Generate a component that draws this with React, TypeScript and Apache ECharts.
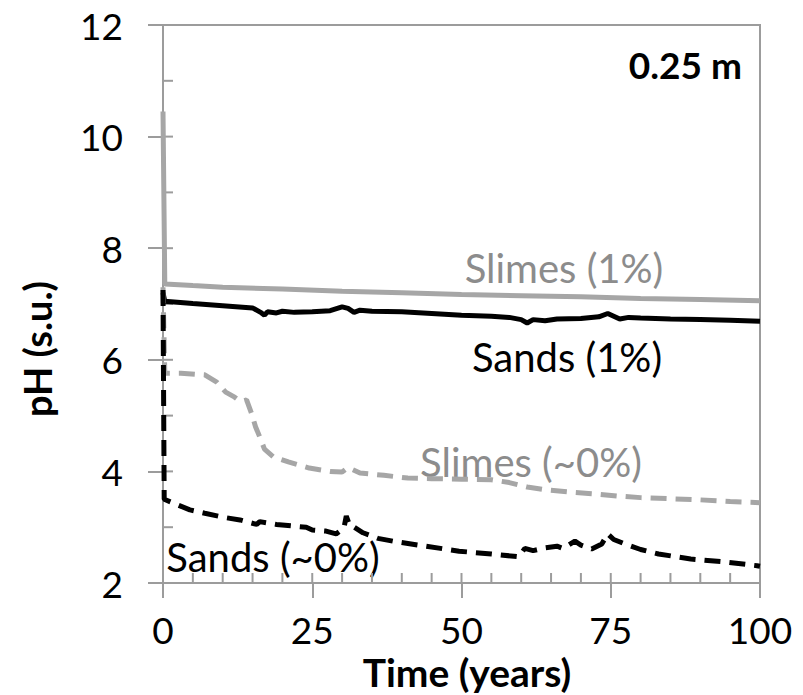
import React, { useEffect, useRef } from "react";
import * as echarts from "echarts";

// Time (years), pH (s.u.)
const slimes1: [number, number][] = [
  [0, 10.45], [0.3, 7.36], [5, 7.33], [10, 7.3], [20, 7.27], [30, 7.23], [40, 7.2],
  [50, 7.17], [60, 7.15], [70, 7.13], [80, 7.1], [90, 7.08], [100, 7.06],
];
const sands1: [number, number][] = [
  [0, 7.2], [0.3, 7.05], [5, 7.01], [10, 6.97], [15, 6.93], [16.5, 6.84], [17, 6.8],
  [17.5, 6.86], [19, 6.84], [20, 6.87], [22, 6.85], [25, 6.86], [28, 6.88], [30, 6.95],
  [31, 6.92], [32, 6.85], [33, 6.89], [35, 6.87], [40, 6.86], [45, 6.83], [50, 6.8],
  [55, 6.78], [58, 6.76], [60, 6.72], [61, 6.66], [62, 6.72], [64, 6.7], [66, 6.73],
  [70, 6.74], [73, 6.77], [74.5, 6.83], [75.5, 6.78], [76.5, 6.73], [78, 6.76], [80, 6.75],
  [85, 6.73], [90, 6.72], [95, 6.71], [100, 6.69],
];
const slimes0: [number, number][] = [
  [0, 7.3], [0.3, 5.76], [3, 5.76], [7, 5.73], [9, 5.6], [10.5, 5.42], [12, 5.33],
  [13, 5.25], [14, 5.28], [14.8, 5.05], [15.5, 4.8], [16.2, 4.62], [17, 4.4], [18.5, 4.26],
  [21, 4.17], [24.5, 4.06], [28, 4.0], [30, 3.99], [31, 4.07], [33, 3.97], [37, 3.93],
  [41, 3.88], [45, 3.87], [50, 3.86], [55, 3.85], [58, 3.8], [61, 3.72], [64, 3.67],
  [68, 3.63], [72, 3.6], [76, 3.56], [80, 3.53], [85, 3.51], [90, 3.49], [95, 3.46],
  [100, 3.44],
];
const sands0: [number, number][] = [
  [0, 7.25], [0.2, 3.5], [2, 3.42], [4.5, 3.31], [7, 3.25], [10, 3.18], [12.9, 3.13],
  [15.7, 3.05], [16.2, 3.1], [19, 3.05], [21.8, 3.02], [24, 3.0], [25, 2.95], [27.3, 2.93],
  [29, 2.88], [30.3, 2.98], [30.7, 3.2], [31.3, 3.02], [32, 3.0], [33.5, 2.9], [36, 2.8],
  [38.5, 2.75], [44, 2.66], [49.6, 2.57], [55, 2.52], [59.6, 2.47], [60.6, 2.62], [62, 2.58],
  [64, 2.63], [66, 2.66], [67, 2.62], [69, 2.75], [70, 2.68], [71.8, 2.61], [73.5, 2.7],
  [74.5, 2.88], [75.5, 2.78], [77.4, 2.7], [80, 2.6], [83, 2.52], [88.4, 2.43], [94, 2.38],
  [99.5, 2.31], [100, 2.3],
];

const xTicks = [0, 25, 50, 75, 100];
const yTicks = [2, 4, 6, 8, 10, 12];
const xMinorTicks = [0, 5, 10, 15, 20, 25, 30, 35, 40, 45, 50, 55, 60, 65, 70, 75, 80, 85, 90, 95, 100];
const yMinorTicks = [2, 3, 4, 5, 6, 7, 8, 9, 10, 11, 12];

const FONT = "Lato";
const AXIS_GRAY = "#9c9c9c";
const LINE_GRAY = "#a6a6a6";
const TEXT_GRAY = "#8c8c8c";
const INNER_TICK = 10;

export default function App() {
  const ref = useRef<HTMLDivElement>(null);
  useEffect(() => {
    document.body.style.margin = "0";
    if (!ref.current) return;
    const chart = echarts.init(ref.current, null, { renderer: "svg" });
    const lbl = { fontFamily: FONT, fontSize: 37, color: "#000" };
    const axLine = { show: true, lineStyle: { color: AXIS_GRAY, width: 2 } };
    const yMin = yTicks[0];
    const xMin = xTicks[0];
    chart.setOption({
      animation: false,
      grid: {
        left: 163, right: 43, top: 25, bottom: 112,
        show: true, borderColor: AXIS_GRAY, borderWidth: 2, backgroundColor: "transparent",
      },
      xAxis: {
        type: "value", min: xTicks[0], max: xTicks[xTicks.length - 1], interval: 25,
        axisLine: axLine,
        axisTick: { show: true, inside: false, length: 15, lineStyle: { color: AXIS_GRAY, width: 2 } },
        axisLabel: { ...lbl, margin: 28 },
        splitLine: { show: false },
      },
      yAxis: {
        type: "value", min: yTicks[0], max: yTicks[yTicks.length - 1], interval: 2,
        axisLine: axLine,
        axisTick: { show: true, inside: false, length: 15, lineStyle: { color: AXIS_GRAY, width: 2 } },
        axisLabel: { ...lbl, margin: 40 },
        splitLine: { show: false },
      },
      series: [
        {
          type: "custom", z: 2,
          data: xMinorTicks.map((v) => [v, yMin]),
          renderItem: (_p: any, api: any) => {
            const c = api.coord([api.value(0), api.value(1)]);
            return {
              type: "line",
              shape: { x1: c[0], y1: c[1], x2: c[0], y2: c[1] - INNER_TICK },
              style: { stroke: AXIS_GRAY, lineWidth: 2 },
            };
          },
        },
        {
          type: "custom", z: 2,
          data: yMinorTicks.map((v) => [xMin, v]),
          renderItem: (_p: any, api: any) => {
            const c = api.coord([api.value(0), api.value(1)]);
            return {
              type: "line",
              shape: { x1: c[0], y1: c[1], x2: c[0] + INNER_TICK, y2: c[1] },
              style: { stroke: AXIS_GRAY, lineWidth: 2 },
            };
          },
        },
        {
          name: "Slimes (1%)", type: "line", data: slimes1, symbol: "none", z: 3,
          lineStyle: { color: LINE_GRAY, width: 5 },
        },
        {
          name: "Sands (1%)", type: "line", data: sands1, symbol: "none", z: 3,
          lineStyle: { color: "#000", width: 5 },
        },
        {
          name: "Slimes (~0%)", type: "line", data: slimes0, symbol: "none", z: 3,
          lineStyle: { color: LINE_GRAY, width: 5, type: [16, 9] },
        },
        {
          name: "Sands (~0%)", type: "line", data: sands0, symbol: "none", z: 3,
          lineStyle: { color: "#000", width: 5, type: [16, 9] },
        },
      ],
      graphic: [
        {
          type: "text", x: 37, y: 349, rotation: Math.PI / 2,
          style: { text: "pH (s.u.)", fontFamily: FONT, fontSize: 38, fontWeight: "bold", fill: "#000", align: "center", verticalAlign: "middle" },
        },
        {
          type: "text", x: 467, y: 672,
          style: { text: "Time (years)", fontFamily: FONT, fontSize: 39, fontWeight: "bold", fill: "#000", align: "center", verticalAlign: "middle" },
        },
        {
          type: "text", x: 742, y: 64,
          style: { text: "0.25 m", fontFamily: FONT, fontSize: 37, fontWeight: "bold", fill: "#000", align: "right", verticalAlign: "middle" },
        },
        {
          type: "text", x: 564, y: 268,
          style: { text: "Slimes (1%)", fontFamily: FONT, fontSize: 40, fill: TEXT_GRAY, align: "center", verticalAlign: "middle" },
        },
        {
          type: "text", x: 567, y: 357,
          style: { text: "Sands (1%)", fontFamily: FONT, fontSize: 40, fill: "#000", align: "center", verticalAlign: "middle" },
        },
        {
          type: "text", x: 531, y: 462,
          style: { text: "Slimes (~0%)", fontFamily: FONT, fontSize: 40, fill: TEXT_GRAY, align: "center", verticalAlign: "middle" },
        },
        {
          type: "text", x: 273, y: 557,
          style: { text: "Sands (~0%)", fontFamily: FONT, fontSize: 40, fill: "#000", align: "center", verticalAlign: "middle" },
        },
      ],
    });
    return () => chart.dispose();
  }, []);
  return <div ref={ref} style={{ width: 803, height: 695 }} />;
}
